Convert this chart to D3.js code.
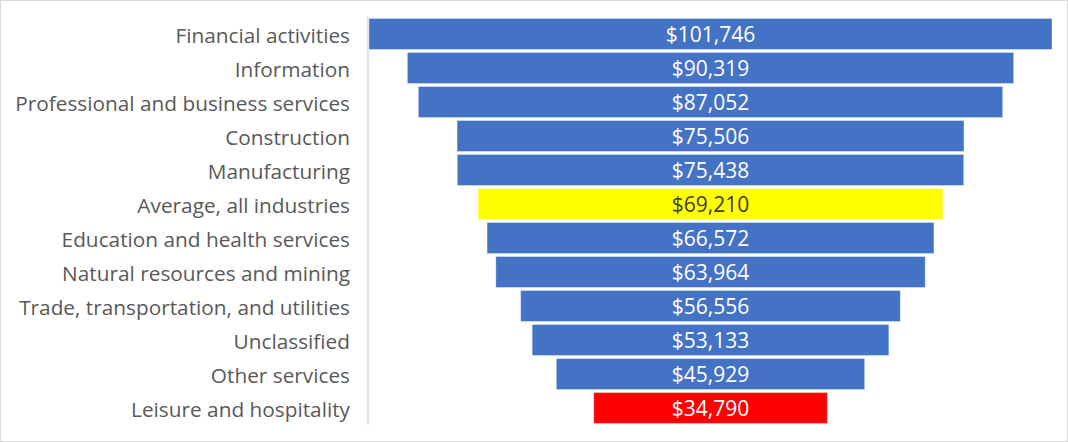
<!DOCTYPE html>
<html><head><meta charset="utf-8">
<script src="https://cdn.jsdelivr.net/npm/d3@7"></script>
<style>body{margin:0;background:#fff}svg{display:block}</style>
</head><body>
<svg id="c" width="1068" height="442"></svg>
<script>
const categories = ["Financial activities","Information","Professional and business services","Construction","Manufacturing","Average, all industries","Education and health services","Natural resources and mining","Trade, transportation, and utilities","Unclassified","Other services","Leisure and hospitality"];
const wages = [101746,90319,87052,75506,75438,69210,66572,63964,56556,53133,45929,34790];
const barColors = ["#4472C4","#4472C4","#4472C4","#4472C4","#4472C4","#FFFF00","#4472C4","#4472C4","#4472C4","#4472C4","#4472C4","#FF0000"];

const svg = d3.select("#c");
svg.append("rect").attr("x",0.5).attr("y",0.5).attr("width",1067).attr("height",441)
  .attr("fill","#fff").attr("stroke","#d9d9d9");

const cx = 710.5, maxW = 683;
const w = d3.scaleLinear().domain([0, d3.max(wages)]).range([0, maxW]);
const y = d3.scaleBand().domain(categories).range([17, 425]).paddingInner(0.09).paddingOuter(0.045);

svg.append("line").attr("x1",368).attr("x2",368).attr("y1",17).attr("y2",425)
  .attr("stroke","#d9d9d9").attr("stroke-width",1.5);

const g = svg.append("g");
g.selectAll("rect.bar").data(wages).join("rect").attr("class","bar")
  .attr("x",(d)=>cx - w(d)/2).attr("width",d=>w(d))
  .attr("y",(d,i)=>y(categories[i])).attr("height",y.bandwidth())
  .attr("fill",(d,i)=>barColors[i]).attr("stroke","rgba(255,255,255,0.35)").attr("stroke-width",1);

const fmt = d3.format("$,");
g.selectAll("text.val").data(wages).join("text").attr("class","val")
  .attr("x",cx).attr("y",(d,i)=>y(categories[i])+y.bandwidth()/2)
  .attr("dy","0.39em").attr("text-anchor","middle")
  .attr("font-family","'Open Sans', sans-serif").attr("font-size",21)
  .attr("fill",(d,i)=>barColors[i]==="#FFFF00"?"#404040":"#fff")
  .text(d=>fmt(d));

g.selectAll("text.cat").data(categories).join("text").attr("class","cat")
  .attr("x",350).attr("y",d=>y(d)+y.bandwidth()/2).attr("dy","0.43em")
  .attr("text-anchor","end").attr("font-family","'Open Sans', sans-serif").attr("font-size",20.8)
  .attr("fill","#595959").text(d=>d);
</script>
</body></html>
